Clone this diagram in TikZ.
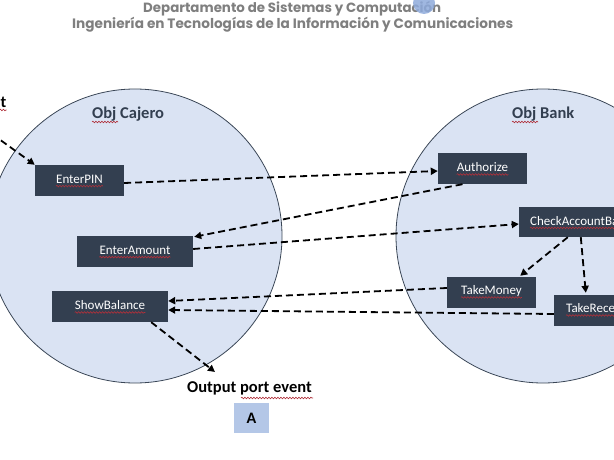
\documentclass[tikz,border=0pt]{standalone}
\usepackage{fontspec}
\setmainfont{Carlito}
\newfontfamily\titlefont{Poppins}
\usetikzlibrary{arrows.meta,calc,decorations.pathmorphing}
\definecolor{boxc}{HTML}{333F50}
\definecolor{circfill}{HTML}{DAE3F3}
\definecolor{circline}{HTML}{3A4656}
\definecolor{titlegray}{HTML}{7F7F7F}
\definecolor{abox}{HTML}{B4C7E7}
\definecolor{logoblue}{HTML}{8EAADB}
\definecolor{squigred}{HTML}{B0303A}
\begin{document}
\begin{tikzpicture}[x=1pt,y=-1pt,
  objcirc/.style={draw=circline,line width=0.8pt,fill=circfill},
  bx/.style={draw=none,fill=boxc,minimum height=31pt,inner sep=0pt},
  bt/.style={text=white,inner sep=0pt,font=\fontsize{13}{15}\selectfont},
  objlabel/.style={text=boxc,inner sep=0pt,font=\bfseries\fontsize{16.5}{19}\selectfont},
  portlabel/.style={text=black,inner sep=0pt,font=\bfseries\fontsize{16.5}{19}\selectfont},
  titletext/.style={text=titlegray,inner sep=0pt,font=\titlefont\bfseries},
  msg/.style={line width=1.8pt,dash pattern=on 7pt off 4pt,-{Triangle[length=7pt,width=7pt]}},
  squig/.style={draw=squigred,line width=0.6pt,decorate,decoration={snake,segment length=3pt,amplitude=0.8pt}}
]
\useasboundingbox (0,0) rectangle (614,460);
\clip (0,0) rectangle (614,460);

% title
\node[titletext,anchor=base west] (t1) at (143,12.5) {\resizebox{298pt}{!}{Departamento de Sistemas y Computación}};
\node[titletext,anchor=base west] (t2) at (72,29) {\resizebox{441pt}{!}{Ingeniería en Tecnologías de la Información y Comunicaciones}};
\fill[logoblue,opacity=0.85] (424,3) circle (11);

% objects
\node[objcirc,circle,minimum size=294pt,inner sep=0pt] (cajero) at (135,236) {};
\node[objcirc,circle,minimum size=294pt,inner sep=0pt] (bank) at (543,236) {};
\node[objlabel,anchor=base west] (lcajero) at (92,119) {Obj Cajero};
\node[objlabel,anchor=base west] (lbank) at (512,119) {Obj Bank};
\draw[squig] ($(lcajero.base west)+(0,3)$) -- ++(26,0);
\draw[squig] ($(lbank.base west)+(0,3)$) -- ++(26,0);

% boxes
\node[bx,minimum width=89pt] (pin) at (79.5,180.5) {};
\node[bx,minimum width=116pt] (amt) at (135,251.5) {};
\node[bx,minimum width=116pt] (show) at (110,306.5) {};
\node[bx,minimum width=89pt] (auth) at (482.5,168.5) {};
\node[bx,minimum width=142pt,minimum height=30pt] (chk) at (590,222) {};
\node[bx,minimum width=89pt] (money) at (491.5,292.5) {};
\node[bx,minimum width=92pt] (rec) at (600,310.5) {};

\node[bt] (tpin) at ($(pin)+(0,-1)$) {EnterPIN};
\node[bt] (tamt) at ($(amt)+(0,-1)$) {EnterAmount};
\node[bt] (tshow) at ($(show)+(0,-1)$) {ShowBalance};
\node[bt] (tauth) at ($(auth)+(0,-1)$) {Authorize};
\node[bt,anchor=west] (tchk) at (530,221) {CheckAccountBalance};
\node[bt] (tmoney) at ($(money)+(0,-1)$) {TakeMoney};
\node[bt,anchor=west] (trec) at (566,309.5) {TakeReceipt};
\foreach \t in {tpin,tamt,tshow,tauth,tchk,tmoney,trec}
  \draw[squig] ($(\t.base west)+(0,2.5)$) -- ($(\t.base east)+(0,2.5)$);

% ports
\node[portlabel,anchor=base east] (inport) at (6.5,107) {Input port event};
\draw[squig] ($(inport.base east)+(-7,3)$) -- ($(inport.base east)+(0,3)$);
\node[portlabel,anchor=base west] (outport) at (187,392) {Output port event};
\draw[squig] (241,398) -- (313,398);
\node[fill=abox,minimum width=35pt,minimum height=30pt,inner sep=0pt,font=\bfseries\fontsize{16}{18}\selectfont] (abx) at (251.5,418) {A};

\coordinate (inp) at (-8,134);
\coordinate (outp) at (215,372);

% connectors
\draw[msg] (inp) -- (pin.north west);
\draw[msg] ($(pin.east)+(0,2.5)$) -- ($(auth.west)+(0,2.5)$);
\draw[msg] ($(auth.south)+(-20,0)$) -- ($(amt.north east)+(1,1)$);
\draw[msg] ($(amt.east)+(0,-2.5)$) -- ($(chk.west)+(0,2)$);
\draw[msg] ($(chk.south west)+(49,0)$) -- ($(money.north east)+(-16,-1)$);
\draw[msg] ($(chk.south west)+(62,0)$) -- ($(rec.north west)+(32,-2)$);
\draw[msg] ($(money.west)+(0,-4.5)$) -- ($(show.east)+(0,-5.5)$);
\draw[msg] ($(rec.west)+(0,3.5)$) -- ($(show.east)+(0,3.5)$);
\draw[msg] ($(show.south east)+(-17,0)$) -- (outp);
\end{tikzpicture}
\end{document}
